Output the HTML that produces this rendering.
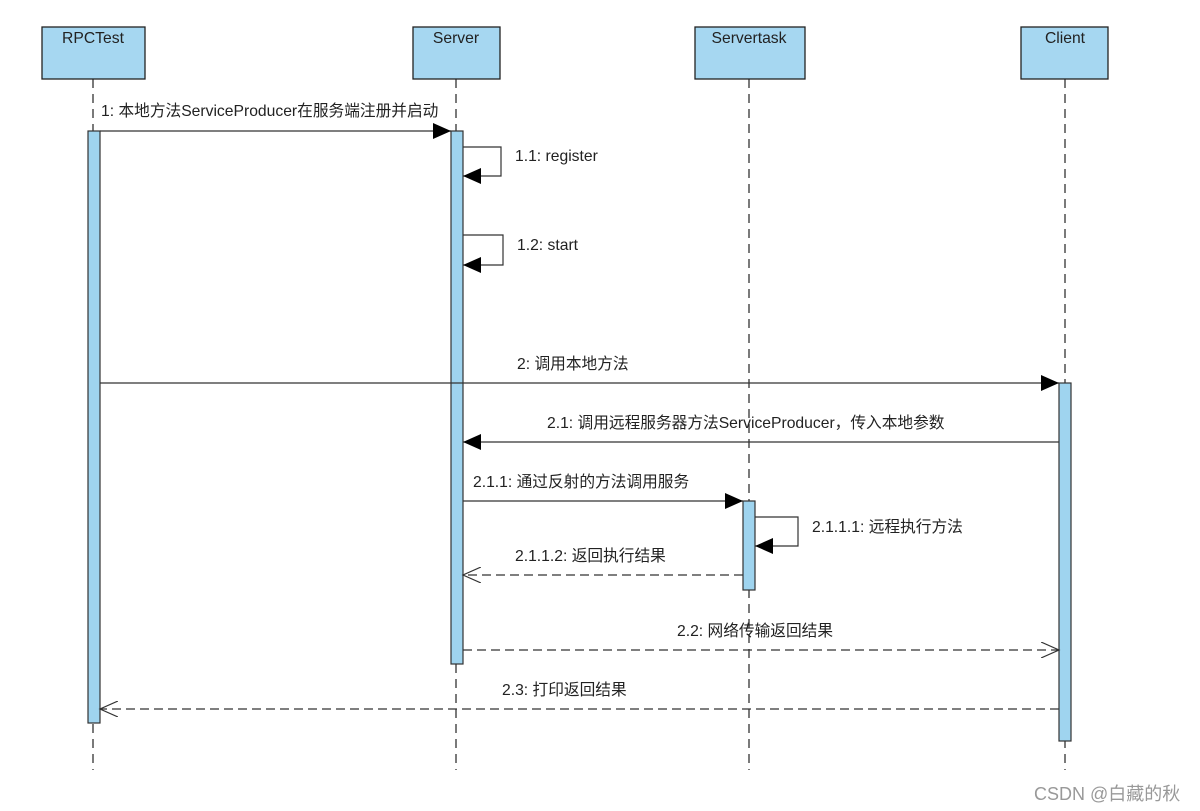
<!DOCTYPE html>
<html><head><meta charset="utf-8"><style>
html,body{margin:0;padding:0;background:#fff;}
svg{display:block;}
text{font-family:"Liberation Sans","Noto Sans CJK SC",sans-serif;font-size:15.7px;fill:#222;}
</style></head><body>
<svg width="1200" height="811" viewBox="0 0 1200 811" xmlns="http://www.w3.org/2000/svg">
<defs>
<marker id="f" markerWidth="20" markerHeight="16" refX="18" refY="8" orient="auto" markerUnits="userSpaceOnUse"><path d="M0,0 L18,8 L0,16 Z" fill="#000"/></marker>
<marker id="o" markerWidth="20" markerHeight="16" refX="18" refY="8" orient="auto" markerUnits="userSpaceOnUse"><path d="M0,0 L18,8 L0,16" fill="none" stroke="#333" stroke-width="1.2"/></marker>
</defs>
<g stroke="#333" stroke-width="1.3" stroke-dasharray="9,6" fill="none">
<line x1="93" y1="79" x2="93" y2="770"/>
<line x1="456" y1="79" x2="456" y2="770"/>
<line x1="749" y1="79" x2="749" y2="770"/>
<line x1="1065" y1="79" x2="1065" y2="770"/>
</g>
<g fill="#a6d7f1" stroke="#222" stroke-width="1.3">
<rect x="42" y="27" width="103" height="52"/>
<rect x="413" y="27" width="87" height="52"/>
<rect x="695" y="27" width="110" height="52"/>
<rect x="1021" y="27" width="87" height="52"/>
</g>
<text x="93" y="43" text-anchor="middle">RPCTest</text>
<text x="456" y="43" text-anchor="middle">Server</text>
<text x="749" y="43" text-anchor="middle">Servertask</text>
<text x="1065" y="43" text-anchor="middle">Client</text>
<g fill="#9fd4ef" stroke="#333" stroke-width="1.2">
<rect x="88" y="131" width="12" height="592"/>
<rect x="451" y="131" width="12" height="533"/>
<rect x="743" y="501" width="12" height="89"/>
<rect x="1059" y="383" width="12" height="358"/>
</g>
<g stroke="#333" stroke-width="1.2" fill="none">
<line x1="100" y1="131" x2="451" y2="131" marker-end="url(#f)"/>
<polyline points="463,147 501,147 501,176 463,176" marker-end="url(#f)"/>
<polyline points="463,235 503,235 503,265 463,265" marker-end="url(#f)"/>
<line x1="100" y1="383" x2="1059" y2="383" marker-end="url(#f)"/>
<line x1="1059" y1="442" x2="463" y2="442" marker-end="url(#f)"/>
<line x1="463" y1="501" x2="743" y2="501" marker-end="url(#f)"/>
<polyline points="755,517 798,517 798,546 755,546" marker-end="url(#f)"/>
<line x1="743" y1="575" x2="463" y2="575" stroke-dasharray="9,5" marker-end="url(#o)"/>
<line x1="463" y1="650" x2="1059" y2="650" stroke-dasharray="9,5" marker-end="url(#o)"/>
<line x1="1059" y1="709" x2="100" y2="709" stroke-dasharray="9,5" marker-end="url(#o)"/>
</g>
<text x="101" y="116">1: 本地方法ServiceProducer在服务端注册并启动</text>
<text x="515" y="161">1.1: register</text>
<text x="517" y="250">1.2: start</text>
<text x="517" y="369">2: 调用本地方法</text>
<text x="547" y="428">2.1: 调用远程服务器方法ServiceProducer，传入本地参数</text>
<text x="473" y="487">2.1.1: 通过反射的方法调用服务</text>
<text x="812" y="532">2.1.1.1: 远程执行方法</text>
<text x="515" y="561">2.1.1.2: 返回执行结果</text>
<text x="677" y="636">2.2: 网络传输返回结果</text>
<text x="502" y="695">2.3: 打印返回结果</text>
<text x="1034" y="800" style="font-size:18px;fill:#999">CSDN @白藏的秋</text>
</svg>
</body></html>
